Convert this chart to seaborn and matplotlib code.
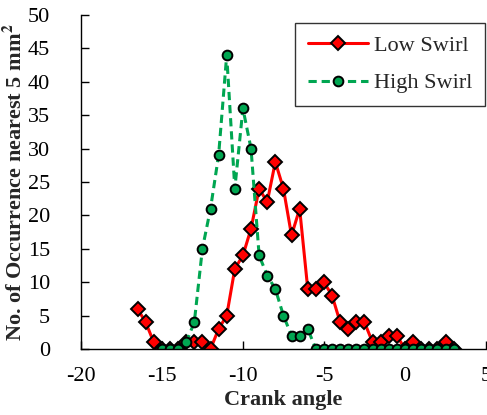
import matplotlib
matplotlib.use("Agg")
import matplotlib.pyplot as plt
import seaborn as sns
import pandas as pd

low_x = [-16.5, -16, -15.5, -15, -14.5, -14, -13.5, -13, -12.5, -12, -11.5, -11, -10.5, -10,
         -9.5, -9, -8.5, -8, -7.5, -7, -6.5, -6, -5.5, -5, -4.5, -4, -3.5, -3, -2.5, -2,
         -1.5, -1, -0.5, 0, 0.5, 1, 1.5, 2, 2.5, 3]
low_y = [6, 4, 1, 0, 0, 0, 1, 1, 1, 0, 3, 5, 12, 14, 18, 24, 22, 28, 24, 17, 21, 9, 9, 10,
         8, 4, 3, 4, 4, 1, 1, 2, 2, 0, 1, 0, 0, 0, 1, 0]

high_x = [-15, -14.5, -14, -13.5, -13, -12.5, -12, -11.5, -11, -10.5, -10, -9.5, -9, -8.5,
          -8, -7.5, -7, -6.5, -6, -5.5, -5, -4.5, -4, -3.5, -3, -2.5, -2, -1.5, -1, -0.5,
          0, 0.5, 1, 1.5, 2, 2.5, 3]
high_y = [0, 0, 0, 1, 4, 15, 21, 29, 44, 24, 36, 30, 14, 11, 9, 5, 2, 2, 3, 0, 0, 0, 0, 0,
          0, 0, 0, 0, 0, 0, 0, 0, 0, 0, 0, 0, 0]

x_ticks = [-20, -15, -10, -5, 0, 5]
y_ticks = [0, 5, 10, 15, 20, 25, 30, 35, 40, 45, 50]

sns.set_theme(style="white")
plt.rcParams["font.family"] = ["Liberation Serif", "DejaVu Serif"]
plt.rcParams["mathtext.fontset"] = "stix"

fig = plt.figure(figsize=(4.87, 4.15), dpi=100)
ax = fig.add_axes([0.166, 0.159, 0.832, 0.805])

low_df = pd.DataFrame({"x": low_x, "y": low_y})
high_df = pd.DataFrame({"x": high_x, "y": high_y})

sns.lineplot(data=low_df, x="x", y="y", ax=ax, color="#FF0000", linewidth=2.2,
             marker="D", markersize=6.8, markerfacecolor="#FF0000",
             markeredgecolor="black", markeredgewidth=1.4, label="Low Swirl", sort=False)
sns.lineplot(data=high_df, x="x", y="y", ax=ax, color="#00A651", linewidth=2.2,
             linestyle=(0, (2.7, 1.6)), marker="o", markersize=7,
             markerfacecolor="#00A651", markeredgecolor="black", markeredgewidth=1.4,
             label="High Swirl", sort=False)

ax.set_xlim(-20, 5)
ax.set_ylim(0, 50)
ax.set_xticks(x_ticks)
ax.set_yticks(y_ticks)
ax.set_xticklabels([str(t) for t in x_ticks], fontsize=16)
ax.set_yticklabels([str(t) for t in y_ticks], fontsize=16)
ax.tick_params(direction="in", length=6, width=1, colors="black",
               bottom=True, left=True)
ax.tick_params(axis="x", pad=13)
ax.tick_params(axis="y", pad=22)
for s in ["top", "right"]:
    ax.spines[s].set_visible(False)
for s in ["left", "bottom"]:
    ax.spines[s].set_color("black")
    ax.spines[s].set_linewidth(1.0)

ax.set_xlabel("Crank angle", fontsize=16, fontweight="bold", labelpad=3)
ax.set_ylabel(r"No. of Occurrence nearest 5 mm$^\mathbf{2}$", fontsize=16,
              fontweight="bold", labelpad=1)

leg = ax.legend(loc="upper right", bbox_to_anchor=(0.997, 0.975), fontsize=16,
                frameon=True, fancybox=False, edgecolor="black", handlelength=2.7,
                borderpad=0.55, labelspacing=0.75, handletextpad=0.3, borderaxespad=0)
leg.get_frame().set_linewidth(1.0)

fig.savefig("out.png", dpi=100)
